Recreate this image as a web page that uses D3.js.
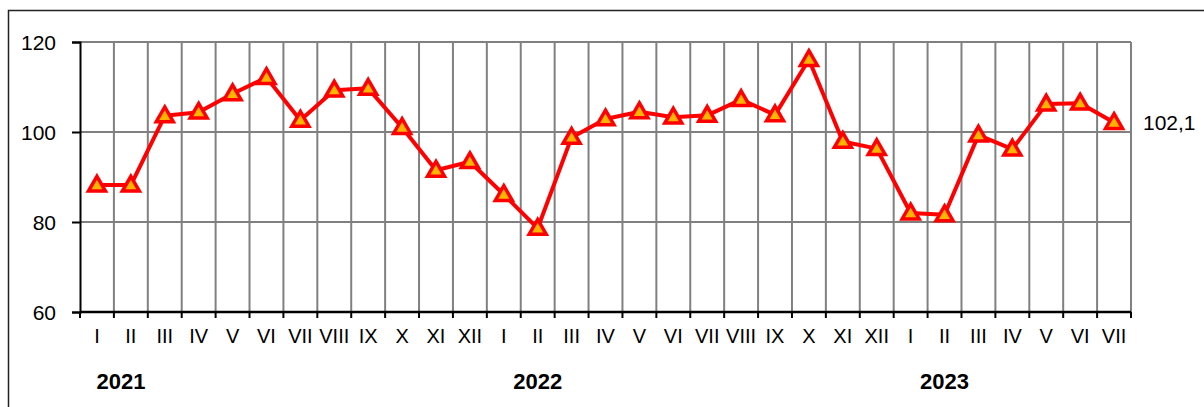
<!DOCTYPE html>
<html>
<head>
<meta charset="utf-8">
<script src="https://cdn.jsdelivr.net/npm/d3@7"></script>
<style>
  html, body { margin: 0; padding: 0; background: #fff; }
  svg { display: block; font-family: "Liberation Sans", Arial, sans-serif; }
</style>
</head>
<body>
<svg id="chart" width="1204" height="407"></svg>
<script>
const months = ["I","II","III","IV","V","VI","VII","VIII","IX","X","XI","XII",
                "I","II","III","IV","V","VI","VII","VIII","IX","X","XI","XII",
                "I","II","III","IV","V","VI","VII"];
const values = [88.2, 88.2, 103.6, 104.4, 108.5, 112.1, 102.6, 109.3, 109.7, 101.0, 91.5, 93.4,
                86.1, 78.6, 98.8, 102.9, 104.5, 103.3, 103.7, 107.2, 103.8, 116.1, 97.9, 96.3,
                82.0, 81.6, 99.3, 96.2, 106.2, 106.4, 102.1];
const yTicks = [60, 80, 100, 120];
const years = ["2021", "2022", "2023"];
const yearAnchorIndex = [0, 13, 25];
const lastLabel = "102,1";

const svg = d3.select("#chart");
const m = { left: 80, right: 1131, top: 42, bottom: 312 };
const idx = d3.range(months.length);

const x = d3.scaleBand().domain(idx).range([m.left, m.right]).padding(0);
const y = d3.scaleLinear().domain([60, 120]).range([m.bottom, m.top]);
const cx = i => x(i) + x.bandwidth() / 2;

// outer frame
svg.append("path").attr("d", "M8.5,420 V10.5 H1210").attr("fill", "none")
  .attr("stroke", "#222").attr("stroke-width", 1.5);

// horizontal gridlines
svg.append("g").selectAll("line").data(yTicks.filter(v => v > 60)).join("line")
  .attr("x1", m.left).attr("x2", m.right)
  .attr("y1", d => y(d)).attr("y2", d => y(d))
  .attr("stroke", "#808080").attr("stroke-width", 2);

// vertical gridlines at category boundaries
const bounds = d3.range(1, months.length + 1).map(i => m.left + i * x.bandwidth());
svg.append("g").selectAll("line").data(bounds).join("line")
  .attr("x1", d => d).attr("x2", d => d)
  .attr("y1", m.top).attr("y2", m.bottom)
  .attr("stroke", "#808080").attr("stroke-width", 2);

// axes
const yAxis = d3.axisLeft(y).tickValues(yTicks).tickSize(8).tickPadding(6).tickFormat(d3.format("d"));
const gy = svg.append("g").attr("transform", `translate(${m.left},0)`).call(yAxis);
gy.select(".domain").attr("stroke", "#000").attr("stroke-width", 2);
gy.selectAll(".tick line").attr("stroke", "#000").attr("stroke-width", 2);
gy.selectAll(".tick text").attr("font-size", 21).attr("fill", "#000")
  .attr("font-family", "Liberation Sans, Arial, sans-serif").attr("x", -24).attr("dy", "0.35em");

const xAxis = d3.axisBottom(x).tickSize(0).tickPadding(17).tickFormat(i => months[i]);
const gx = svg.append("g").attr("transform", `translate(0,${m.bottom})`).call(xAxis);
gx.select(".domain").remove();
gx.selectAll(".tick text").attr("font-size", 20).attr("fill", "#000")
  .attr("font-family", "Liberation Sans, Arial, sans-serif");
svg.append("line").attr("x1", m.left).attr("x2", m.right).attr("y1", m.bottom).attr("y2", m.bottom)
  .attr("stroke", "#000").attr("stroke-width", 2.5);
svg.append("g").selectAll("line").data([m.left].concat(bounds)).join("line")
  .attr("x1", d => d).attr("x2", d => d)
  .attr("y1", m.bottom).attr("y2", m.bottom + 6)
  .attr("stroke", "#000").attr("stroke-width", 2);

// year labels
svg.append("g").selectAll("text").data(years).join("text")
  .attr("x", (d, k) => k === 0 ? cx(0) + 24 : cx(yearAnchorIndex[k]))
  .attr("y", 389)
  .attr("text-anchor", "middle")
  .attr("font-size", 22).attr("font-weight", "bold").attr("fill", "#000")
  .text(d => d);

// line
const line = d3.line().x((d, i) => cx(i)).y(d => y(d));
svg.append("path").datum(values).attr("d", line)
  .attr("fill", "none").attr("stroke", "#ff0000").attr("stroke-width", 4)
  .attr("stroke-linejoin", "round");

// triangle markers
const tri = d3.symbol().type(d3.symbolTriangle).size(125);
svg.append("g").selectAll("path").data(values).join("path")
  .attr("d", tri)
  .attr("transform", (d, i) => `translate(${cx(i)},${y(d) + 1})`)
  .attr("fill", "#ffb400").attr("stroke", "#ff0000").attr("stroke-width", 3.5)
  .attr("stroke-linejoin", "miter");

// last value label
svg.append("text")
  .attr("x", m.right + 12).attr("y", y(values[values.length - 1]))
  .attr("dy", "0.35em")
  .attr("font-size", 21).attr("fill", "#000")
  .text(lastLabel);
</script>
</body>
</html>
